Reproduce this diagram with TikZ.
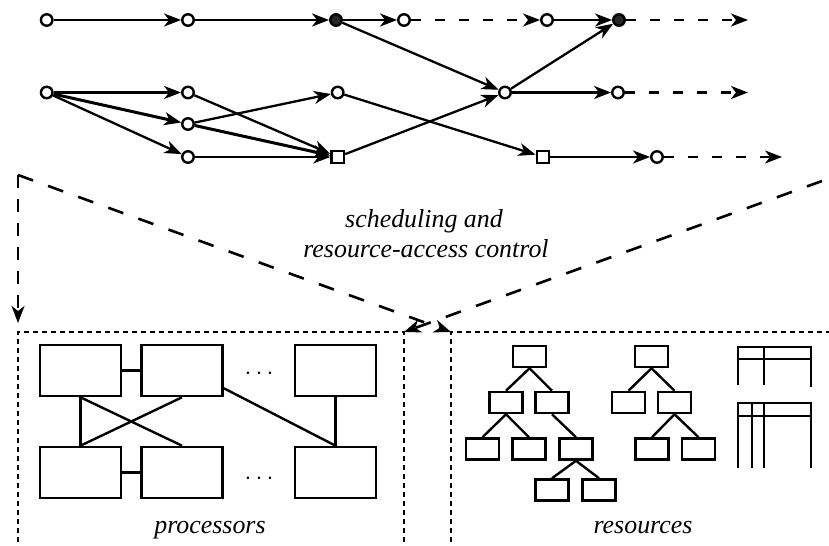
\documentclass[tikz,border=0pt]{standalone}
\usepackage{fontspec}
\setmainfont{Liberation Serif}
\usetikzlibrary{arrows.meta,calc}
\begin{document}
\begin{tikzpicture}[x=1bp,y=-1bp,
  every node/.style={inner sep=0pt},
  vtx/.style={circle,draw,line width=2.4bp,fill=white,minimum size=11.5bp},
  fvtx/.style={vtx,fill=black!85},
  sq/.style={rectangle,draw,line width=2.4bp,fill=white,minimum size=12.5bp},
  tip/.style={-{Stealth[length=17bp,width=13bp,inset=5bp]}},
  edge/.style={line width=2.3bp,tip},
  thickedge/.style={line width=3bp,tip},
  dedge/.style={edge,dash pattern=on 10bp off 14bp},
  bigdash/.style={line width=2.6bp,dash pattern=on 16bp off 16bp,tip},
  vdash/.style={line width=2.6bp,dash pattern=on 13bp off 11bp,tip},
  boxdash/.style={line width=1.2bp,dash pattern=on 5bp off 4bp},
  proc/.style={rectangle,draw,line width=2.6bp,minimum width=81bp,minimum height=51bp},
  res/.style={rectangle,draw,line width=2.6bp,minimum width=33bp,minimum height=21bp},
  link/.style={line width=2.4bp},
  lbl/.style={font=\fontsize{26}{30}\selectfont\itshape,anchor=base},
  dots/.style={font=\fontsize{31}{31}\selectfont,anchor=base}
]
\useasboundingbox (0,0) rectangle (829,546);

% ---------- top graph ----------
\node[vtx]  (a1) at (46.7,20) {};
\node[vtx]  (a2) at (188,20) {};
\node[fvtx] (a3) at (336,20) {};
\node[vtx]  (a4) at (404,20) {};
\node[vtx]  (a5) at (547,20) {};
\node[fvtx] (a6) at (619,20) {};
\coordinate (e1) at (748,20);

\node[vtx] (b1) at (46.7,92.5) {};
\node[vtx] (b2) at (188,92.5) {};
\node[vtx] (b3) at (337.7,92.5) {};
\node[vtx] (b4) at (505,92.5) {};
\node[vtx] (b5) at (618,92.5) {};
\coordinate (e2) at (748,92.5);

\node[vtx] (c1) at (188,124) {};

\node[vtx] (d1) at (188,157) {};
\node[sq]  (d2) at (337.7,157) {};
\node[sq]  (d3) at (543,157) {};
\node[vtx] (d4) at (657,157) {};
\coordinate (e3) at (782,157);

\draw[edge] (a1) -- (a2);
\draw[edge] (a2) -- (a3);
\draw[edge] (a3) -- (a4);
\draw[dedge] (a4) -- (a5);
\draw[edge] (a5) -- (a6);
\draw[dedge] (a6) -- (e1);
\draw[edge] (a3) -- (b4);

\draw[edge] (b1) -- (b2);
\draw[thickedge] (b1) -- (c1);
\draw[edge] (b1) -- (d1);
\draw[edge] (b2) -- (d2);
\draw[edge] (c1) -- (b3);
\draw[thickedge] (c1) -- (d2);
\draw[edge] (d1) -- (d2);
\draw[edge] (b3) -- (d3);
\draw[edge] (d2) -- (b4);
\draw[edge] (b4) -- (a6);
\draw[edge] (b4) -- (b5);
\draw[dedge] (b5) -- (e2);
\draw[edge] (d3) -- (d4);
\draw[dedge] (d4) -- (e3);

% ---------- scheduling arrows ----------
\coordinate (s1) at (18,175);
\coordinate (s1v) at (18,323);
\coordinate (s2) at (822,181);
\coordinate (pcorner) at (404,332);
\coordinate (rcorner) at (451,332);

\draw[vdash] (s1) -- (s1v);
\draw[bigdash] (s1) -- (rcorner);
\draw[bigdash] (s2) -- (pcorner);

\node[lbl] (t1) at (424,228) {scheduling and};
\node[lbl] (t2) at (426,258) {resource-access control};

% ---------- dashed boxes ----------
\draw[boxdash] (18,560) -- (18,332) -- (pcorner) -- (404,560);
\draw[boxdash] (840,332) -- (rcorner) -- (451,560);

% ---------- processors ----------
\node[proc] (P1) at (80.5,370.5) {};
\node[proc] (P2) at (182,370.5) {};
\node[proc] (P3) at (335.5,370.5) {};
\node[proc] (P4) at (80.5,472.5) {};
\node[proc] (P5) at (182,472.5) {};
\node[proc] (P6) at (335.5,472.5) {};

\draw[link] (P1.east) -- (P2.west);
\draw[link] (P4.east) -- (P5.west);
\draw[link] (P1.south) -- (P4.north);
\draw[link] (P1.south) -- (P5.north);
\draw[link] (P2.south) -- (P4.north);
\draw[link] (P2.-23.6) -- (P6.north);
\draw[link] (P3.south) -- (P6.north);

\node[dots] (dt1) at (259,379) {$\cdots$};
\node[dots] (dt2) at (259,484) {$\cdots$};

\node[lbl] (tp) at (210,533) {processors};

% ---------- resources: tree 1 ----------
\node[res] (r0) at (529.5,356.5) {};
\node[res] (r1) at (506,402.5) {};
\node[res] (r2) at (552,402.5) {};
\node[res] (r3) at (482.5,449) {};
\node[res] (r4) at (529,449) {};
\node[res] (r5) at (576,449) {};
\node[res] (r6) at (552,490) {};
\node[res] (r7) at (599,490) {};
\draw[link] (r0.south) -- (r1.north);
\draw[link] (r0.south) -- (r2.north);
\draw[link] (r1.south) -- (r3.north);
\draw[link] (r1.south) -- (r4.north);
\draw[link] (r2.south) -- (r5.north);
\draw[link] (r5.south) -- (r6.north);
\draw[link] (r5.south) -- (r7.north);

% ---------- resources: tree 2 ----------
\node[res] (q0) at (651.5,356.5) {};
\node[res] (q1) at (628.5,402.5) {};
\node[res] (q2) at (674.5,402.5) {};
\node[res] (q3) at (652,449) {};
\node[res] (q4) at (698.5,449) {};
\draw[link] (q0.south) -- (q1.north);
\draw[link] (q0.south) -- (q2.north);
\draw[link] (q2.south) -- (q3.north);
\draw[link] (q2.south) -- (q4.north);

% ---------- resources: tables ----------
\draw[link] (737,347) -- (812,347);
\draw[link] (737,359) -- (812,359);
\draw[link] (738,347) -- (738,385);
\draw[link] (764,347) -- (764,385);
\draw[link] (811,347) -- (811,387);

\draw[link] (737,403) -- (812,403);
\draw[link] (737,416) -- (812,416);
\draw[link] (738,403) -- (738,468);
\draw[link] (752,403) -- (752,468);
\draw[link] (764,403) -- (764,468);
\draw[link] (811,403) -- (811,468);

\node[lbl] (tr) at (643,533) {resources};
\end{tikzpicture}
\end{document}
